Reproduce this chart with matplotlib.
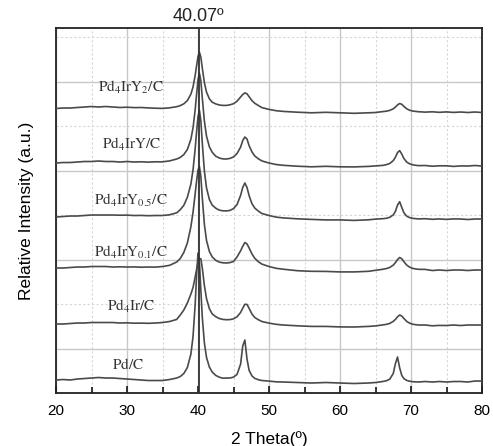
import numpy as np
import matplotlib.pyplot as plt

plt.rcParams['font.family'] = ['Liberation Sans', 'DejaVu Sans']
plt.rcParams['mathtext.fontset'] = 'stix'

# 2theta sampling (deg), denser around the reflections
two_theta = [20, 21, 22, 23, 24, 25, 26, 27, 28, 29,
             30, 31, 32, 33, 34, 35, 36, 37, 37.5, 38,
             38.5, 39, 39.3, 39.6, 39.8, 40.0, 40.2, 40.4, 40.6, 40.9,
             41.2, 41.6, 42.0, 42.5, 43, 43.5, 44, 44.5, 45, 45.5,
             46, 46.3, 46.6, 46.9, 47.2, 47.6, 48, 48.5, 49, 50,
             51, 52, 54, 56, 58, 60, 62, 64, 65, 66,
             66.5, 67, 67.5, 67.8, 68.1, 68.4, 68.7, 69, 69.4, 69.8,
             70.3, 71, 72, 73, 74, 75, 76, 77, 78, 79,
             80]

# intensities (a.u.) of each sample
pd_c = [3, 3.5, 3, 4, 4.5, 5, 5.5, 5, 5, 4.5,
        4, 3.5, 3, 2.5, 2.5, 2.5, 3.5, 5, 6.5, 9.5,
        15.5, 29, 46.5, 78.5, 108, 130, 121, 93, 66, 40,
        25.5, 16, 11, 7.6, 5.8, 4.8, 5, 5, 5.9, 8.6,
        19, 37, 43, 24, 12.6, 7.1, 4.6, 3.3, 2.5, 1.9,
        1.2, 1, 0.5, 0, 0.5, 0, -0.5, 0, 0.5, 1.5,
        2.2, 3.8, 9.5, 19.2, 26, 15.2, 7.6, 4.4, 2.6, 1.8,
        1.3, 1, 1.5, 1, 1.5, 1, 1.5, 1.5, 1, 2,
        2]
pd4ir_c = [3, 3, 3.5, 4, 4, 4.5, 4.5, 4.5, 4.5, 4,
           4.2, 3.8, 3.9, 3.7, 4, 4.5, 5.5, 7.6, 12, 17,
           24, 33, 39.5, 50, 57.7, 64.4, 68.5, 68.2, 59.2, 41.4,
           28.3, 18.4, 13.1, 10.3, 8.5, 7.6, 7.3, 7.4, 8.2, 10.2,
           14.6, 18.8, 22.7, 22.6, 18.6, 13, 9.5, 7.3, 5.5, 3.9,
           2.7, 2, 1.2, 0.6, 0.6, 0.1, 0, 0.6, 1.1, 2.1,
           2.6, 3.6, 5.6, 7.6, 10.2, 12, 11, 8.5, 5.6, 3.9,
           2.7, 2, 2, 1.2, 1.6, 1.5, 2, 1.5, 2, 2,
           2]
pd4iry01_c = [4, 4, 4.5, 5, 5, 5.5, 5.5, 5.5, 5, 5.2,
              5, 5.1, 4.8, 5, 4.9, 5.5, 6.7, 10, 13.5, 19.5,
              29, 45.4, 59.8, 78.2, 91.1, 101.8, 105.6, 95.5, 74.5, 47.5,
              31.5, 20.6, 15.1, 11.7, 9.9, 9.2, 9, 9.4, 10.5, 15.1,
              21.2, 25.7, 29.5, 28.1, 24, 18.1, 13.7, 10.3, 7.9, 5.5,
              3.7, 2.8, 1.3, 0.7, 0.6, 0.1, 0.1, 0.7, 1.7, 2.7,
              3.4, 4.5, 6.9, 9.3, 12.4, 14.5, 13.3, 10.3, 6.9, 4.9,
              3.5, 2.7, 2.6, 1.5, 2, 1.5, 2, 2, 1.5, 2,
              2]
pd4iry05_c = [3, 3.5, 4, 4, 4.5, 5, 5, 5, 5, 4.8,
              4.9, 4.5, 4.6, 4.3, 4.5, 4.5, 5.2, 7.2, 10.3, 14.7,
              22.7, 36.1, 50.2, 71.3, 88.3, 103.3, 109.8, 99.3, 77.3, 48.8,
              32, 20.6, 14.9, 11.8, 9.9, 9.2, 9.1, 9.6, 11.4, 15.5,
              24.6, 32.6, 37, 32.6, 24.3, 16.3, 11.9, 8.9, 6.5, 4.5,
              2.9, 2.1, 1.2, 0.6, 0.1, 0.1, -0.4, 0.2, 0.9, 1.3,
              1.7, 2.7, 5.1, 8.6, 14.9, 18.3, 12.6, 7.2, 3.8, 2.4,
              1.6, 1.1, 1.3, 0.7, 1.1, 0.6, 1.1, 1, 0.5, 1,
              1]
pd4iry_c = [4, 4.5, 4.5, 5, 5.5, 5.5, 6, 5.5, 5.5, 5,
            5.5, 5, 5.2, 4.9, 5.2, 5.2, 6.1, 8, 9.6, 12.4,
            17.5, 27.8, 39.2, 57.2, 72.7, 87.2, 93.9, 86.3, 69.3, 45.8,
            30.8, 20.2, 14.8, 10.8, 9, 8.1, 8, 8.6, 10.1, 13.5,
            19.9, 26.5, 30, 28, 21.3, 15.1, 11, 8.2, 6.1, 4,
            2.5, 1.7, 0.8, 0.2, 0.7, 0.2, 0.1, 0.6, 1.1, 1.6,
            2.3, 3.5, 6.4, 9.8, 14.4, 16.4, 12.9, 8.5, 4.9, 3.2,
            2.1, 1.4, 1.5, 0.8, 1.2, 1.2, 0.6, 1.1, 1, 1.5,
            1]
pd4iry2_c = [4.5, 5, 5, 5.5, 6, 6.5, 6, 6.5, 6, 5.5,
             5.8, 5.4, 5.5, 5.1, 4.8, 4.6, 5.2, 6.3, 7.4, 9.2,
             12.4, 18.9, 26.1, 37.5, 47.3, 56.5, 60.8, 55.9, 45.1, 30.3,
             20.9, 14.2, 10.8, 9.1, 8, 7.6, 7.6, 8.2, 9.3, 11.8,
             16, 18.5, 20.1, 19.2, 16.3, 12.4, 9.7, 7.5, 5.4, 3.6,
             2.3, 1.6, 0.8, 0.2, 0.7, 0.2, -0.3, 0.2, 0.5, 1.4,
             1.8, 2.6, 4.2, 5.9, 8.1, 9.5, 8.7, 6.6, 4.2, 2.8,
             1.9, 1.3, 0.9, 1.2, 0.7, 1.1, 0.6, 1, 0.5, 1,
             0.5]

patterns = [pd_c, pd4ir_c, pd4iry01_c, pd4iry05_c, pd4iry_c, pd4iry2_c]
offsets = [10, 66, 121, 173, 226, 280]
labels = [r'$\mathrm{Pd/C}$', r'$\mathrm{Pd_4Ir/C}$', r'$\mathrm{Pd_4IrY_{0.1}/C}$',
          r'$\mathrm{Pd_4IrY_{0.5}/C}$', r'$\mathrm{Pd_4IrY/C}$', r'$\mathrm{Pd_4IrY_2/C}$']
label_xy = [(30.1, 29), (30.55, 87), (30.6, 141), (30.6, 193), (30.65, 249), (30.55, 306)]
ref_peak = 40.07

fig = plt.figure(figsize=(4.93, 4.46), dpi=100)
ax = fig.add_axes([0.1136, 0.1188, 0.8641, 0.8184])

line_color = '#4a4a4a'
for vals, off in zip(patterns, offsets):
    ax.plot(two_theta, np.array(vals) + off, color=line_color, lw=1.2, zorder=3)

for txt, (x, y) in zip(labels, label_xy):
    ax.text(x, y, txt, ha='center', va='center', fontsize=11, color='#333333', zorder=4)

ax.axvline(ref_peak, color='#333333', lw=1.3, zorder=4)
ax.text(ref_peak, 1.008, '%.2fº' % ref_peak, transform=ax.get_xaxis_transform(),
        ha='center', va='bottom', fontsize=13, color='#222222')

ax.set_xlim(20, 80)
ax.set_ylim(0, 365)
ax.set_xticks(np.arange(20, 81, 10))
ax.set_xticks(np.arange(25, 80, 10), minor=True)
ax.set_yticks(np.arange(44.5, 365, 89))
ax.set_yticks(np.arange(89, 365, 89), minor=True)
ax.grid(which='major', color='#c8c8c8', lw=1.0, zorder=0)
ax.grid(which='minor', color='#d6d6d6', lw=0.8, ls=(0, (2, 2)), zorder=0)
ax.set_axisbelow(True)

ax.tick_params(axis='x', which='both', direction='in', top=False, labelsize=11, pad=8)
ax.tick_params(axis='x', which='major', length=5, width=1.1)
ax.tick_params(axis='x', which='minor', length=4, width=1.1)
ax.tick_params(axis='y', which='both', left=False, labelleft=False)
for sp in ax.spines.values():
    sp.set_color('#222222')
    sp.set_linewidth(1.3)

ax.set_xlabel('2 Theta(º)', fontsize=12.5, labelpad=9)
ax.set_ylabel('Relative Intensity (a.u.)', fontsize=12.5, labelpad=16)

fig.savefig('out.png', dpi=100)
